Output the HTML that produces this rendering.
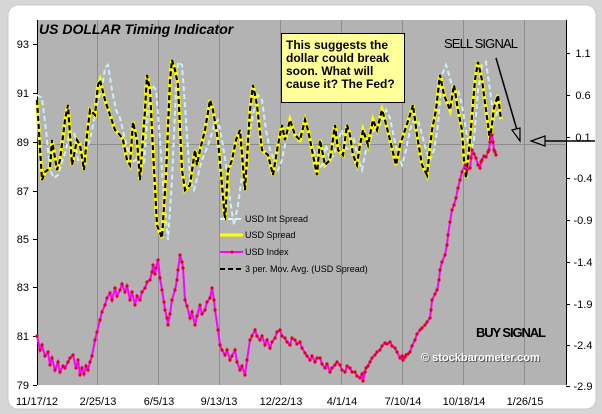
<html><head><style>body{margin:0;background:#d6d6d6}svg{display:block}text{font-family:"Liberation Sans",sans-serif}</style></head><body>
<svg width="602" height="414" viewBox="0 0 602 414">
<defs><marker id="d" markerWidth="4" markerHeight="4" refX="2" refY="2" markerUnits="userSpaceOnUse"><circle cx="2" cy="2" r="1.6" fill="#e00020"/></marker></defs>
<rect x="0" y="0" width="602" height="414" fill="#d6d6d6"/>
<rect x="8" y="5" width="588" height="404" rx="10" fill="#fff" stroke="#c8c8c8"/>
<rect x="37" y="20" width="529" height="365" fill="#b3b3b3"/>
<g stroke="#8c8c8c" stroke-width="1">
<line x1="97.5" y1="20" x2="97.5" y2="385"/><line x1="158.5" y1="20" x2="158.5" y2="385"/><line x1="219.5" y1="20" x2="219.5" y2="385"/><line x1="280.5" y1="20" x2="280.5" y2="385"/><line x1="341.5" y1="20" x2="341.5" y2="385"/><line x1="402.5" y1="20" x2="402.5" y2="385"/><line x1="463.5" y1="20" x2="463.5" y2="385"/><line x1="524.5" y1="20" x2="524.5" y2="385"/>
<line x1="37" y1="144.5" x2="566" y2="144.5"/>
</g>
<g stroke="#000" stroke-width="1">
<line x1="37.5" y1="20" x2="37.5" y2="385"/><line x1="566.5" y1="20" x2="566.5" y2="385"/>
<line x1="33" y1="44.5" x2="37" y2="44.5"/><line x1="33" y1="93.5" x2="37" y2="93.5"/><line x1="33" y1="142.5" x2="37" y2="142.5"/><line x1="33" y1="191.5" x2="37" y2="191.5"/><line x1="33" y1="239.5" x2="37" y2="239.5"/><line x1="33" y1="287.5" x2="37" y2="287.5"/><line x1="33" y1="336.5" x2="37" y2="336.5"/><line x1="33" y1="385.5" x2="37" y2="385.5"/>
<line x1="566" y1="53.5" x2="570" y2="53.5"/><line x1="566" y1="95.5" x2="570" y2="95.5"/><line x1="566" y1="137.5" x2="570" y2="137.5"/><line x1="566" y1="178.5" x2="570" y2="178.5"/><line x1="566" y1="220.5" x2="570" y2="220.5"/><line x1="566" y1="262.5" x2="570" y2="262.5"/><line x1="566" y1="304.5" x2="570" y2="304.5"/><line x1="566" y1="345.5" x2="570" y2="345.5"/><line x1="566" y1="386.5" x2="570" y2="386.5"/>
</g>
<g font-size="11" fill="#000" text-anchor="end">
<text x="29" y="48">93</text><text x="29" y="97">91</text><text x="29" y="146">89</text><text x="29" y="195">87</text><text x="29" y="243">85</text><text x="29" y="291">83</text><text x="29" y="340">81</text><text x="29" y="389">79</text>
</g>
<g font-size="11" fill="#000" text-anchor="middle">
<text x="583" y="57">1.1</text><text x="583" y="99">0.6</text><text x="583" y="141">0.1</text><text x="583" y="182">-0.4</text><text x="583" y="224">-0.9</text><text x="583" y="266">-1.4</text><text x="583" y="308">-1.9</text><text x="583" y="349">-2.4</text><text x="583" y="390">-2.9</text>
<text x="37" y="405">11/17/12</text><text x="98" y="405">2/25/13</text><text x="159" y="405">6/5/13</text><text x="219" y="405">9/13/13</text><text x="281" y="405">12/22/13</text><text x="342" y="405">4/1/14</text><text x="403" y="405">7/10/14</text><text x="464" y="405">10/18/14</text><text x="525" y="405">1/26/15</text>
</g>
<polyline fill="none" stroke="#cfeff5" stroke-width="2" stroke-dasharray="5,3" points="37,95 42,98 46,130 50,170 54,178 58,175 62,162 66,150 70,130 74,132 78,160 82,160 86,150 90,140 94,120 98,100 102,88 105,68 108,65 112,90 116,110 120,118 124,135 128,150 132,162 136,160 140,150 144,165 148,110 152,85 156,90 160,140 164,200 168,240 172,180 176,90 178,62 182,65 186,120 190,180 194,190 198,175 202,160 206,150 210,140 214,125 218,120 222,140 226,165 230,200 234,225 238,205 242,175 246,170 250,130 254,110 258,95 262,100 266,130 270,150 274,160 278,170 282,160 286,140 290,128 294,130 298,140 302,128 306,125 310,138 314,150 318,170 322,165 326,145 330,160 334,155 338,140 342,130 346,148 350,150 354,140 358,158 362,170 366,150 370,140 374,130 378,128 382,120 386,110 390,118 394,138 398,155 402,165 406,150 410,130 414,120 418,120 422,135 426,150 430,160 434,150 438,125 442,75 446,65 450,78 454,95 458,90 462,105 466,130 470,155 474,140 478,90 482,65 486,62 490,90 494,120 498,110 501,115"/>
<polyline fill="none" stroke="#ffff00" stroke-width="3.5" points="37,100 42,180 45,172 50,168 52,140 57,170 60,160 65,120 68,105 72,165 77,140 80,145 84,170 87,135 90,110 95,115 98,85 100,80 105,100 110,115 115,130 120,135 123,140 127,160 130,165 133,122 137,140 140,180 145,110 147,75 150,90 153,150 157,225 162,238 166,175 170,80 172,60 175,70 178,85 182,170 185,190 190,185 195,150 197,165 200,150 205,130 210,100 213,110 218,140 222,185 225,220 228,170 232,160 236,140 240,130 245,190 250,110 253,85 257,105 262,150 268,155 273,175 278,145 282,125 285,140 290,120 295,135 300,140 305,120 308,130 313,155 317,175 320,140 325,165 330,160 335,125 338,150 343,155 347,125 350,135 353,155 357,165 360,145 363,130 368,145 373,120 377,130 382,110 385,120 390,140 396,165 400,145 405,130 410,115 413,105 417,135 422,165 427,175 432,130 436,110 440,75 444,95 450,110 454,85 458,110 462,130 464,160 466,178 470,140 475,80 478,62 482,80 486,110 490,140 494,108 498,95 501,120"/>
<polyline fill="none" stroke="#000" stroke-width="2.2" stroke-dasharray="5,3" points="37,100 42,180 45,172 50,168 52,140 57,170 60,160 65,120 68,105 72,165 77,140 80,145 84,170 87,135 90,110 95,115 98,85 100,80 105,100 110,115 115,130 120,135 123,140 127,160 130,165 133,122 137,140 140,180 145,110 147,75 150,90 153,150 157,225 162,238 166,175 170,80 172,60 175,70 178,85 182,170 185,190 190,185 195,150 197,165 200,150 205,130 210,100 213,110 218,140 222,185 225,220 228,170 232,160 236,140 240,130 245,190 250,110 253,85 257,105 262,150 268,155 273,175 278,145 282,125 285,140 290,120 295,135 300,140 305,120 308,130 313,155 317,175 320,140 325,165 330,160 335,125 338,150 343,155 347,125 350,135 353,155 357,165 360,145 363,130 368,145 373,120 377,130 382,110 385,120 390,140 396,165 400,145 405,130 410,115 413,105 417,135 422,165 427,175 432,130 436,110 440,75 444,95 450,110 454,85 458,110 462,130 464,160 466,178 470,140 475,80 478,62 482,80 486,110 490,140 494,108 498,95 501,120"/>
<polyline fill="none" stroke="#ff00ff" stroke-width="2" marker-start="url(#d)" marker-mid="url(#d)" marker-end="url(#d)" points="37,336 40,350 42,345 45,356 48,352 50,365 52,358 55,370 58,362 60,372 63,366 65,368 68,362 70,358 73,355 76,368 78,360 80,375 82,368 84,374 86,366 88,370 90,362 92,356 95,340 97,332 100,320 102,312 105,305 107,298 110,293 112,300 115,288 117,296 120,290 122,284 125,292 127,286 130,300 132,292 135,305 137,296 140,300 142,292 145,288 147,282 150,280 152,272 153,265 155,274 156,268 158,260 160,278 162,290 164,302 165,310 167,318 168,325 170,314 172,300 175,290 177,280 178,270 180,255 182,262 183,268 185,300 187,306 190,318 192,312 195,325 197,316 200,305 202,314 205,310 207,302 210,298 212,288 214,300 215,310 218,330 220,345 222,350 225,355 227,350 230,360 232,356 235,350 237,362 240,370 242,366 245,375 247,360 250,340 252,336 255,330 257,336 260,340 262,336 265,345 267,340 270,348 272,342 275,338 277,332 280,330 282,336 285,338 287,342 290,345 292,338 295,340 297,344 300,342 302,348 305,353 307,356 310,360 312,356 315,362 317,358 320,358 322,364 325,368 327,364 330,372 332,368 335,365 337,362 340,365 342,370 345,372 347,366 350,368 352,372 355,372 357,376 360,378 362,374 363,381 365,372 366,368 368,366 370,362 372,358 375,355 377,352 380,350 382,346 385,343 387,344 390,342 392,346 395,348 397,352 400,358 402,356 403,360 405,357 406,355 408,354 410,352 412,346 415,340 417,334 420,330 422,328 425,325 427,322 430,318 431,310 432,300 435,294 437,290 439,280 440,270 442,262 445,255 447,245 448,235 450,222 452,210 454,205 456,198 458,188 460,180 462,172 465,165 467,170 470,168 471,158 472,150 474,154 476,158 478,165 480,168 481,162 482,160 484,156 486,157 488,152 489,150 490,142 492,135 493,142 494,150 495,152 496,155"/>
<text x="39" y="34" font-size="14" font-weight="bold" font-style="italic" fill="#000">US DOLLAR Timing Indicator</text>
<rect x="281.5" y="33.5" width="123" height="69" fill="#ffff99" stroke="#000"/>
<g font-size="12" font-weight="bold" fill="#000"><text x="286" y="49">This suggests the</text><text x="286" y="62">dollar could break</text><text x="286" y="75">soon.  What will</text><text x="286" y="88">cause it?  The Fed?</text></g>
<g font-size="9" fill="#000">
<line x1="220" y1="219" x2="243" y2="219" stroke="#dff5fa" stroke-width="2" stroke-dasharray="5,3"/><text x="245" y="222">USD Int Spread</text>
<line x1="220" y1="235" x2="243" y2="235" stroke="#ff0" stroke-width="3"/><text x="245" y="238">USD Spread</text>
<line x1="220" y1="252" x2="243" y2="252" stroke="#f0f" stroke-width="2"/><circle cx="232" cy="252" r="1.5" fill="#e00"/><text x="245" y="255">USD Index</text>
<line x1="220" y1="269" x2="243" y2="269" stroke="#000" stroke-width="2" stroke-dasharray="5,3"/><text x="245" y="272">3 per. Mov. Avg. (USD Spread)</text>
</g>
<text x="444" y="48" font-size="13" fill="#000" textLength="74">SELL  SIGNAL</text>
<text x="476" y="337" font-size="13" font-weight="bold" fill="#000" textLength="70">BUY  SIGNAL</text>
<text x="422" y="362" font-size="11" font-weight="bold" fill="#555">© stockbarometer.com</text>
<text x="421" y="361" font-size="11" font-weight="bold" fill="#fff">© stockbarometer.com</text>
<line x1="496" y1="58" x2="517" y2="130" stroke="#000" stroke-width="1.5"/>
<polygon points="512,130 520,128 520,141" fill="#b3b3b3" stroke="#000" stroke-width="1.2"/>
<line x1="543" y1="141" x2="595" y2="141" stroke="#000" stroke-width="1.5"/>
<polygon points="531,141 545,136 545,146" fill="#b3b3b3" stroke="#000" stroke-width="1.2"/>
</svg></body></html>
